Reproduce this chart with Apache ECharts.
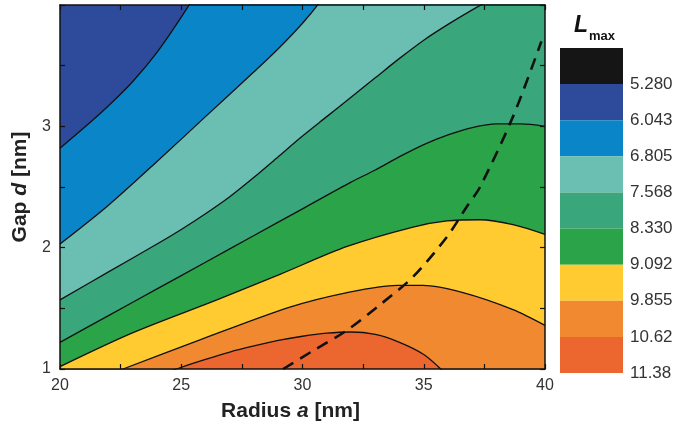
<!DOCTYPE html>
<html>
<head>
<meta charset="utf-8">
<script src="https://cdn.jsdelivr.net/npm/echarts@6/dist/echarts.min.js"></script>
<style>
  html, body { margin: 0; padding: 0; background: #fff; }
  #chart { width: 676px; height: 427px; }
</style>
</head>
<body>
<div id="chart"></div>
<script>
// colour levels (top of colorbar down) and their boundary labels
var levels = ['5.280', '6.043', '6.805', '7.568', '8.330', '9.092', '9.855', '10.62', '11.38'];
var bandColors = ['#151515', '#2E4B9B', '#0A85C7', '#6ABEB2', '#3AA67B', '#2BA348', '#FFCB30', '#F18930', '#EC6630'];

// contour boundaries [radius a, gap d], top-left to bottom-right
var c1 = [[20, 2.82], [21, 2.99], [22, 3.17], [23, 3.37], [24, 3.61], [25, 3.9], [26, 4.22], [27, 4.58], [40, 9]];
var c2 = [[20, 2.03], [22, 2.35], [24, 2.71], [26, 3.08], [28, 3.45], [29, 3.64], [30, 3.85], [30.7, 4.02], [31.5, 4.25], [40, 6.5]];
var c3 = [[20, 1.57], [22, 1.8], [24, 2.03], [25, 2.15], [26, 2.28], [27, 2.42], [28, 2.58], [29, 2.75], [30, 2.92], [31, 3.08],
          [32, 3.24], [33, 3.4], [34, 3.56], [35, 3.71], [36, 3.84], [37, 3.96], [38, 4.07], [40, 4.3]];
var c4 = [[20, 1.22], [22, 1.44], [24, 1.66], [26, 1.88], [28, 2.1], [30, 2.32], [32, 2.54], [33, 2.64], [34, 2.75],
          [35, 2.85], [36, 2.93], [37, 2.99], [38, 3.02], [39, 3.02], [40, 3.0]];
var c5 = [[20, 1.02], [23.01, 1.3], [26.47, 1.57], [29.07, 1.78], [31.84, 2.01], [34.56, 2.17], [35.96, 2.22], [37.32, 2.23], [38.68, 2.19], [40, 2.11]];
var c6 = [[20, 0.8], [22.6, 1.0], [25.77, 1.24], [29.48, 1.51], [31.84, 1.63], [33.9, 1.69], [34.97, 1.69], [36.62, 1.63], [38.68, 1.49], [40, 1.36]];
var c7 = [[20, 0.62], [24.8, 1.0], [26, 1.08], [27, 1.14], [28, 1.19], [29, 1.235], [30, 1.27], [31, 1.295], [32, 1.305],
          [33, 1.285], [34, 1.22], [35, 1.12], [35.7, 1.0], [36.5, 0.83], [40, 0.3]];
var contours = [c1, c2, c3, c4, c5, c6, c7];

// dashed curve
var dashed = [[29.2, 1.0], [30.43, 1.15], [31.84, 1.32], [33.2, 1.53], [34.56, 1.76], [35.96, 2.09], [36.78, 2.34], [37.32, 2.5], [38.68, 3.08], [39.85, 3.7]];

var font = 'Liberation Sans, Arial, sans-serif';
var chart = echarts.init(document.getElementById('chart'), null, { renderer: 'canvas' });

var series = [];
contours.forEach(function(c, i) {
  series.push({
    type: 'line',
    xAxisIndex: 0, yAxisIndex: 0,
    data: c,
    smooth: 0.3,
    showSymbol: false,
    clip: true,
    lineStyle: { color: '#111', width: 1.3 },
    areaStyle: { color: bandColors[i + 2], opacity: 1, origin: 'start' },
    z: 2 + i
  });
});
series.push({
  type: 'line',
  xAxisIndex: 0, yAxisIndex: 0,
  data: dashed,
  smooth: 0.3,
  showSymbol: false,
  lineStyle: { color: '#111', width: 2.6, type: [12, 8] },
  z: 20
});
bandColors.forEach(function(col, i) {
  series.push({
    type: 'bar',
    xAxisIndex: 2, yAxisIndex: 2,
    stack: 'bar',
    data: [1],
    barWidth: '100%',
    itemStyle: { color: col }
  });
});

var tickStyle = { show: true, inside: true, length: 5, lineStyle: { color: '#111', width: 1.2 } };
var lineStyle = { show: true, lineStyle: { color: '#111', width: 1.5 } };
var nameStyle = {
  fontSize: 21, fontWeight: 'bold', color: '#222', fontFamily: font,
  rich: { i: { fontSize: 21, fontWeight: 'bold', fontStyle: 'italic', color: '#222', fontFamily: font } }
};

chart.setOption({
  animation: false,
  textStyle: { fontFamily: font },
  grid: [
    { left: 60, right: 131, top: 5, bottom: 58, show: true, backgroundColor: bandColors[1], borderWidth: 0 },
    { left: 560, top: 48, width: 63, height: 325 }
  ],
  xAxis: [
    {
      type: 'value', gridIndex: 0, min: 20, max: 40, interval: 2.5, z: 50,
      name: 'Radius {i|a} [nm]', nameLocation: 'middle', nameGap: 32,
      nameTextStyle: Object.assign({ padding: [0, 24, 0, 0] }, nameStyle),
      axisLine: lineStyle, axisTick: tickStyle, splitLine: { show: false },
      axisLabel: {
        margin: 9, fontSize: 16, color: '#333',
        formatter: function(v) { return v % 5 === 0 ? String(v) : ''; }
      }
    },
    {
      type: 'value', gridIndex: 0, min: 20, max: 40, interval: 2.5, position: 'top', z: 50,
      axisLine: lineStyle, axisTick: tickStyle, axisLabel: { show: false }, splitLine: { show: false }
    },
    {
      type: 'category', gridIndex: 1, data: [''], show: false
    }
  ],
  yAxis: [
    {
      type: 'value', gridIndex: 0, min: 1, max: 4, interval: 0.5, z: 50,
      name: 'Gap {i|d} [nm]', nameLocation: 'middle', nameGap: 27,
      nameTextStyle: nameStyle,
      axisLine: lineStyle, axisTick: tickStyle, splitLine: { show: false },
      axisLabel: {
        margin: 9, fontSize: 16, color: '#333',
        formatter: function(v) { return (Math.abs(v - Math.round(v)) < 1e-6 && v < 3.9) ? String(Math.round(v)) : ''; }
      }
    },
    {
      type: 'value', gridIndex: 0, min: 1, max: 4, interval: 0.5, position: 'right', z: 50,
      axisLine: lineStyle, axisTick: tickStyle, axisLabel: { show: false }, splitLine: { show: false }
    },
    {
      type: 'value', gridIndex: 1, min: 0, max: 9, interval: 1, inverse: true, position: 'right',
      axisLine: { show: false }, axisTick: { show: false }, splitLine: { show: false },
      axisLabel: {
        margin: 7, fontSize: 17, color: '#333',
        formatter: function(v) { return v === 0 ? '' : levels[v - 1]; }
      }
    }
  ],
  graphic: [
    { type: 'text', left: 574, top: 14, style: { text: 'L', font: 'italic bold 23px ' + font, fill: '#111' } },
    { type: 'text', left: 589, top: 30, style: { text: 'max', font: 'bold 13px ' + font, fill: '#111' } }
  ],
  series: series
});
</script>
</body>
</html>
